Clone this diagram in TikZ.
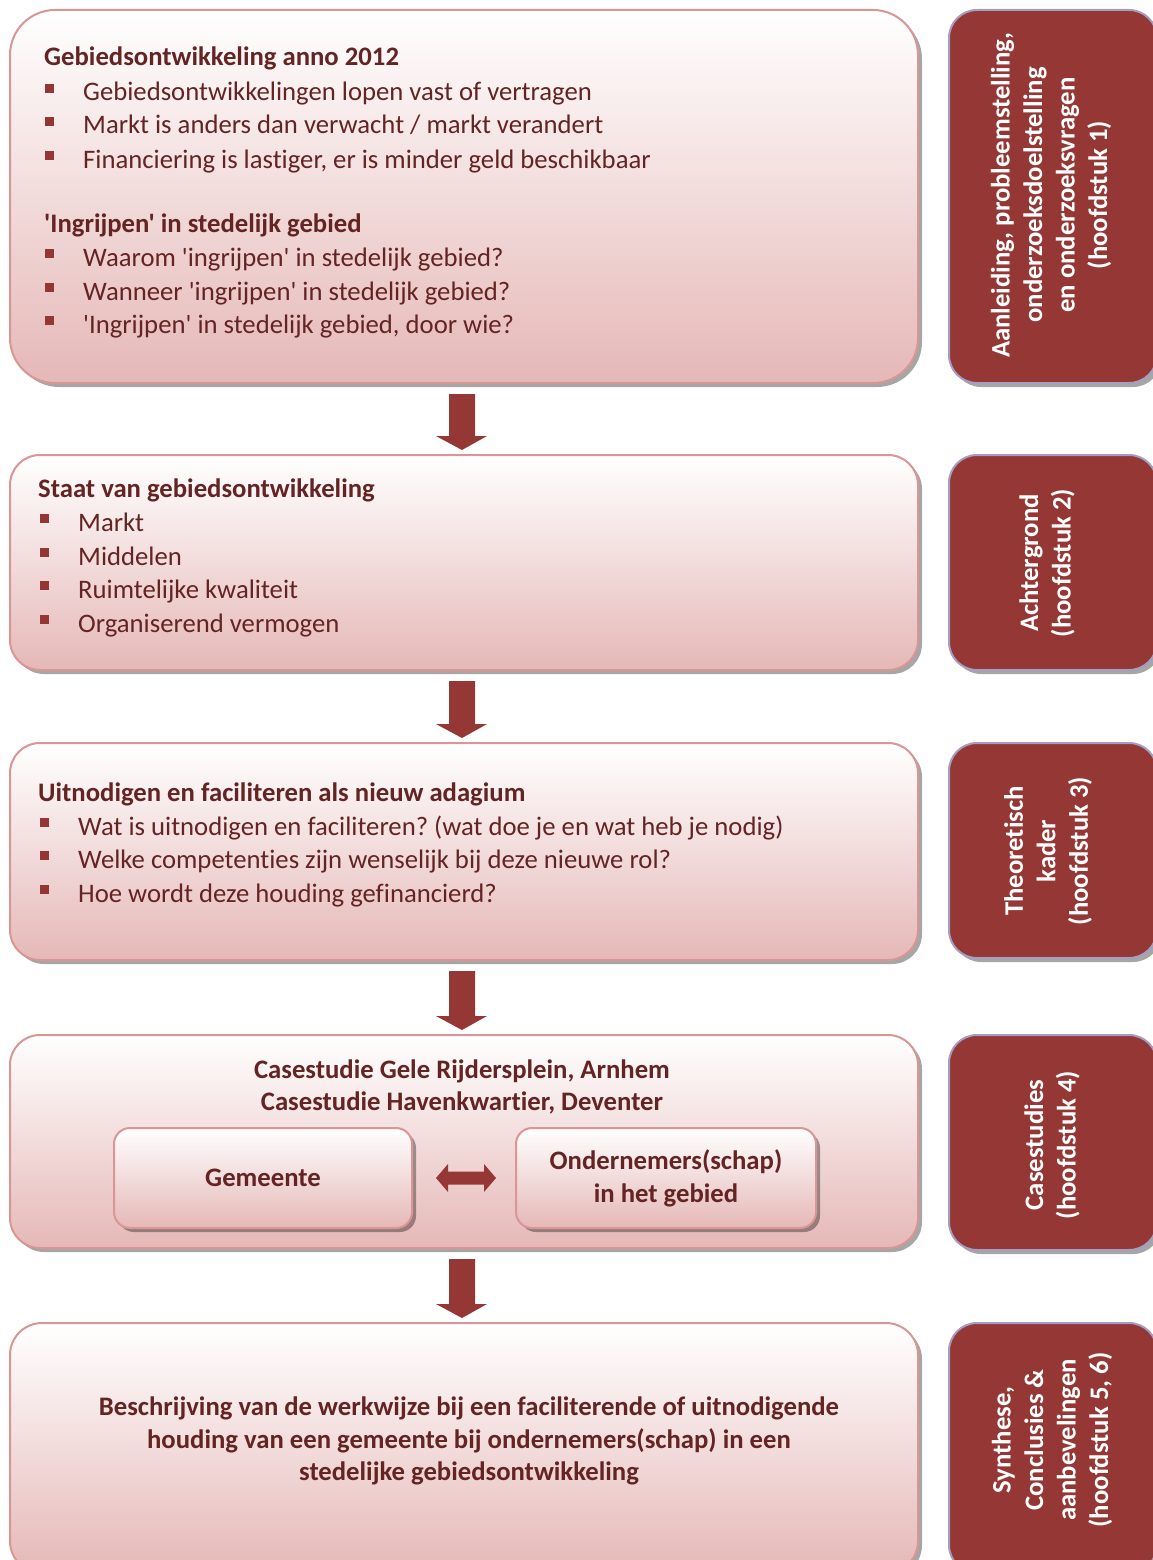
\documentclass[tikz,border=0pt]{standalone}
\usepackage{fontspec}
\setmainfont{Carlito}[Ligatures={TeXOff,NoCommon}]
\usetikzlibrary{calc,shadows}
\frenchspacing

\definecolor{txt}{HTML}{632423}
\definecolor{accent}{HTML}{943634}
\definecolor{sidefill}{HTML}{953735}
\definecolor{sideline}{HTML}{A49EC4}
\definecolor{boxline}{HTML}{D99694}
\definecolor{boxbot}{HTML}{E5B8B7}

\tikzset{
  mainbox/.style={draw=boxline, line width=2pt, top color=white, bottom color=boxbot,
    anchor=north west, inner sep=0pt, outer sep=0pt,
    drop shadow={shadow xshift=4pt, shadow yshift=-4pt, fill=black, opacity=.35}},
  sidebox/.style={draw=sideline, line width=2pt, fill=sidefill, rounded corners=28pt,
    anchor=north west, inner sep=0pt, outer sep=0pt,
    drop shadow={shadow xshift=4pt, shadow yshift=-4pt, fill=black, opacity=.35}},
  itemtext/.style={inner sep=0pt, text=txt, font=\fontsize{26.7}{33.5}\selectfont},
  headtext/.style={inner sep=0pt, text=txt, font=\fontsize{26.7}{33.5}\selectfont\bfseries},
  centertext/.style={inner sep=0pt, text=txt, align=center,
    font=\fontsize{26.7}{33}\selectfont\bfseries},
  sidetext/.style={inner sep=0pt, text=white, align=center, rotate=90,
    font=\fontsize{26.7}{32.5}\selectfont\bfseries},
}

% bullet line: name, bullet x, text x, baseline y, text
\newcommand\bitem[5]{%
  \fill[accent] (#2,#4-17) rectangle ++(9,9);
  \node[itemtext, anchor=base west] (#1) at (#3,#4) {#5};}

% block arrow pointing down from one box to the next
\newcommand\flowarrow[2]{%
  \fill[sidefill] ($(#1.south)+(-15,11)$) -- ($(#1.south)+(11,11)$)
    -- ($(#2.north)+(11,-19)$) -- ($(#2.north)+(23,-19)$)
    -- ($(#2.north)+(-2,-5)$) -- ($(#2.north)+(-28,-19)$)
    -- ($(#2.north)+(-15,-19)$) -- cycle;}

\begin{document}
\begin{tikzpicture}[x=1pt, y=-1pt]
\fill[white] (0,0) rectangle (1152,1560);
\useasboundingbox (0,0) rectangle (1152,1560);

% ---- main boxes ----
\node[mainbox, rounded corners=45pt, minimum width=908pt, minimum height=373pt] (b1) at (10,10) {};
\node[mainbox, rounded corners=30pt, minimum width=908pt, minimum height=215pt] (b2) at (10,455) {};
\node[mainbox, rounded corners=30pt, minimum width=908pt, minimum height=217pt] (b3) at (10,743) {};
\node[mainbox, rounded corners=30pt, minimum width=908pt, minimum height=213pt] (b4) at (10,1035) {};
\node[mainbox, rounded corners=32pt, minimum width=908pt, minimum height=250pt] (b5) at (10,1323) {};

% ---- side boxes ----
\node[sidebox, minimum width=208pt, minimum height=373pt] (s1) at (949,10) {};
\node[sidebox, minimum width=208pt, minimum height=215pt] (s2) at (949,455) {};
\node[sidebox, minimum width=208pt, minimum height=215pt] (s3) at (949,743) {};
\node[sidebox, minimum width=208pt, minimum height=215pt] (s4) at (949,1035) {};
\node[sidebox, minimum width=208pt, minimum height=250pt] (s5) at (949,1323) {};

% ---- arrows between stages ----
\flowarrow{b1}{b2}
\flowarrow{b2}{b3}
\flowarrow{b3}{b4}
\flowarrow{b4}{b5}

% ---- stage 1 ----
\node[headtext, anchor=base west] (h1) at (44,66) {Gebiedsontwikkeling anno 2012};
\bitem{i11}{45}{83}{101}{Gebiedsontwikkelingen lopen vast of vertragen}
\bitem{i12}{45}{83}{134}{Markt is anders dan verwacht / markt verandert}
\bitem{i13}{45}{83}{168}{Financiering is lastiger, er is minder geld beschikbaar}
\node[headtext, anchor=base west] (h2) at (44,232) {'Ingrijpen' in stedelijk gebied};
\bitem{i21}{45}{83}{266}{Waarom 'ingrijpen' in stedelijk gebied?}
\bitem{i22}{45}{83}{300}{Wanneer 'ingrijpen' in stedelijk gebied?}
\bitem{i23}{45}{83}{333}{'Ingrijpen' in stedelijk gebied, door wie?}

% ---- stage 2 ----
\node[headtext, anchor=base west] (h3) at (38,497) {Staat van gebiedsontwikkeling};
\bitem{i31}{40}{78}{531}{Markt}
\bitem{i32}{40}{78}{565}{Middelen}
\bitem{i33}{40}{78}{598}{Ruimtelijke kwaliteit}
\bitem{i34}{40}{78}{632}{Organiserend vermogen}

% ---- stage 3 ----
\node[headtext, anchor=base west] (h4) at (38,801) {Uitnodigen en faciliteren als nieuw adagium};
\bitem{i41}{40}{78}{835}{Wat is uitnodigen en faciliteren? (wat doe je en wat heb je nodig)}
\bitem{i42}{40}{78}{868}{Welke competenties zijn wenselijk bij deze nieuwe rol?}
\bitem{i43}{40}{78}{902}{Hoe wordt deze houding gefinancierd?}

% ---- stage 4 ----
\node[centertext, anchor=base] (h5) at (462,1078) {Casestudie Gele Rijdersplein, Arnhem};
\node[centertext, anchor=base] (h6) at (462,1110) {Casestudie Havenkwartier, Deventer};
\node[mainbox, rounded corners=16pt, minimum width=298pt, minimum height=100pt] (gm) at (114,1128) {};
\node[mainbox, rounded corners=16pt, minimum width=300pt, minimum height=100pt] (on) at (516,1128) {};
\node[centertext] (gmt) at (gm.center) {Gemeente};
\node[centertext] (ont) at (on.center) {Ondernemers(schap)\\in het gebied};
\fill[sidefill] ($(gm.east)+(24,0)$) -- ($(gm.east)+(36,-14)$) -- ($(gm.east)+(36,-6.5)$)
  -- ($(on.west)+(-32,-6.5)$) -- ($(on.west)+(-32,-14)$) -- ($(on.west)+(-20,0)$)
  -- ($(on.west)+(-32,14)$) -- ($(on.west)+(-32,6.5)$) -- ($(gm.east)+(36,6.5)$)
  -- ($(gm.east)+(36,14)$) -- cycle;

% ---- stage 5 ----
\node[centertext, anchor=base] (h7) at (469,1415) {Beschrijving van de werkwijze bij een faciliterende of uitnodigende};
\node[centertext, anchor=base] (h8) at (469,1448) {houding van een gemeente bij ondernemers(schap) in een};
\node[centertext, anchor=base] (h9) at (469,1480) {stedelijke gebiedsontwikkeling};

% ---- chapter labels ----
\node[sidetext] (l1) at (1051,195) {Aanleiding, probleemstelling,\\onderzoeksdoelstelling\\en onderzoeksvragen\\(hoofdstuk 1)};
\node[sidetext] (l2) at (1047,563) {Achtergrond\\(hoofdstuk 2)};
\node[sidetext] (l3) at (1048,851) {Theoretisch\\kader\\(hoofdstuk 3)};
\node[sidetext] (l4) at (1052,1145) {Casestudies\\(hoofdstuk 4)};
\node[sidetext] (l5) at (1052,1440) {Synthese,\\Conclusies \&\\aanbevelingen\\(hoofdstuk 5, 6)};
\end{tikzpicture}
\end{document}
